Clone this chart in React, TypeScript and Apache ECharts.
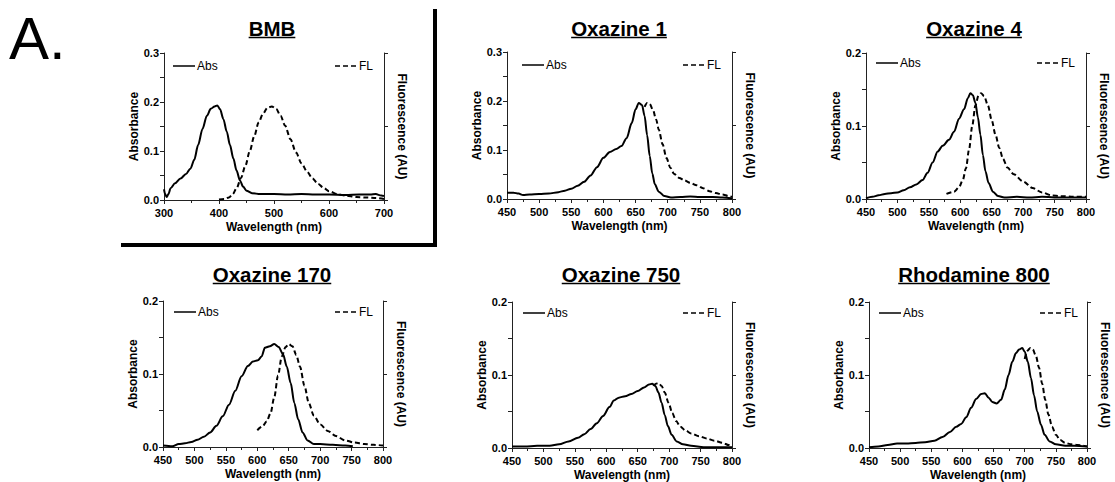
import React, { useEffect, useRef } from 'react';
import * as echarts from 'echarts';

const FONT = '"Liberation Sans", Arial, Helvetica, sans-serif';
const AX = '#222';

// ---------- data (wavelength nm, value) ----------
const BMB_ABS: [number, number][] = [
  [300, 0.022], [302, 0.012], [305, 0.006], [308, 0.012], [312, 0.024], [320, 0.034], [330, 0.044],
  [340, 0.053], [348, 0.064], [355, 0.082], [362, 0.112], [370, 0.145], [378, 0.172], [385, 0.186],
  [392, 0.191], [397, 0.193], [402, 0.185], [408, 0.165], [414, 0.140], [420, 0.112], [426, 0.085],
  [432, 0.060], [438, 0.040], [444, 0.027], [450, 0.019], [460, 0.014], [475, 0.012], [500, 0.012],
  [525, 0.011], [550, 0.012], [575, 0.011], [600, 0.011], [630, 0.010], [655, 0.011], [675, 0.011],
  [685, 0.012], [695, 0.009], [700, 0.008],
];
const BMB_FL: [number, number][] = [
  [400, 0.001], [410, 0.002], [418, 0.005], [425, 0.012], [432, 0.024], [440, 0.045], [448, 0.070],
  [456, 0.100], [464, 0.130], [472, 0.158], [480, 0.176], [488, 0.188], [496, 0.191], [504, 0.186],
  [512, 0.172], [520, 0.152], [530, 0.124], [540, 0.097], [550, 0.075], [560, 0.058], [570, 0.044],
  [580, 0.033], [590, 0.025], [600, 0.018], [615, 0.012], [630, 0.009], [650, 0.006], [670, 0.005],
  [685, 0.004], [700, 0.002],
];
const OX1_ABS: [number, number][] = [
  [450, 0.013], [460, 0.013], [468, 0.011], [475, 0.008], [485, 0.009], [500, 0.010], [515, 0.011],
  [530, 0.014], [540, 0.017], [550, 0.021], [560, 0.027], [570, 0.035], [580, 0.048], [590, 0.065],
  [600, 0.084], [610, 0.096], [620, 0.102], [628, 0.108], [636, 0.124], [644, 0.155], [650, 0.183],
  [655, 0.196], [660, 0.192], [664, 0.170], [668, 0.130], [672, 0.088], [676, 0.052], [680, 0.030],
  [686, 0.015], [695, 0.006], [705, 0.003], [720, 0.004], [735, 0.005], [750, 0.004], [770, 0.004],
  [785, 0.003], [800, 0.001],
];
const OX1_FL: [number, number][] = [
  [664, 0.188], [668, 0.196], [672, 0.194], [677, 0.182], [682, 0.162], [686, 0.142], [692, 0.112],
  [698, 0.084], [704, 0.064], [710, 0.051], [718, 0.043], [726, 0.038], [735, 0.033], [745, 0.028],
  [755, 0.022], [765, 0.016], [775, 0.012], [785, 0.009], [795, 0.006], [800, 0.004],
];
const OX4_ABS: [number, number][] = [
  [450, 0.001], [460, 0.003], [470, 0.005], [480, 0.007], [490, 0.008], [500, 0.009], [510, 0.012],
  [520, 0.016], [530, 0.020], [540, 0.026], [548, 0.036], [556, 0.050], [564, 0.065], [572, 0.073],
  [582, 0.081], [590, 0.092], [598, 0.110], [606, 0.123], [612, 0.138], [616, 0.145], [620, 0.142],
  [624, 0.132], [628, 0.112], [632, 0.088], [636, 0.060], [640, 0.038], [645, 0.022], [652, 0.010],
  [660, 0.004], [670, 0.002], [690, 0.003], [710, 0.002], [730, 0.003], [760, 0.002], [800, 0.002],
];
const OX4_FL: [number, number][] = [
  [578, 0.007], [590, 0.010], [598, 0.016], [604, 0.026], [609, 0.042], [614, 0.068], [619, 0.100],
  [624, 0.128], [629, 0.142], [633, 0.145], [638, 0.141], [644, 0.128], [650, 0.108], [656, 0.088],
  [662, 0.070], [668, 0.055], [675, 0.043], [685, 0.034], [700, 0.024], [715, 0.015], [730, 0.009],
  [745, 0.005], [760, 0.004], [780, 0.003], [800, 0.003],
];
const OX170_ABS: [number, number][] = [
  [450, 0.002], [465, 0.001], [475, 0.004], [485, 0.005], [495, 0.007], [505, 0.010], [515, 0.014],
  [525, 0.020], [535, 0.029], [545, 0.042], [555, 0.058], [565, 0.077], [575, 0.097], [585, 0.111],
  [593, 0.117], [601, 0.119], [607, 0.124], [612, 0.136], [620, 0.138], [627, 0.141], [634, 0.137],
  [641, 0.127], [647, 0.110], [653, 0.088], [659, 0.060], [665, 0.038], [672, 0.020], [680, 0.009],
  [690, 0.004], [700, 0.004], [720, 0.003], [740, 0.002], [752, 0.001],
];
const OX170_FL: [number, number][] = [
  [600, 0.023], [608, 0.028], [615, 0.035], [621, 0.046], [627, 0.068], [633, 0.098], [639, 0.124],
  [645, 0.137], [650, 0.141], [656, 0.138], [662, 0.126], [668, 0.110], [675, 0.084], [682, 0.060],
  [690, 0.043], [700, 0.031], [712, 0.022], [725, 0.015], [740, 0.009], [755, 0.006], [770, 0.004],
  [785, 0.003], [800, 0.002],
];
const OX750_ABS: [number, number][] = [
  [450, 0.002], [470, 0.002], [490, 0.003], [510, 0.003], [525, 0.005], [540, 0.009], [555, 0.014],
  [565, 0.019], [575, 0.026], [585, 0.034], [595, 0.044], [605, 0.056], [612, 0.065], [620, 0.069],
  [630, 0.071], [640, 0.074], [650, 0.078], [660, 0.083], [668, 0.087], [673, 0.088], [678, 0.085],
  [683, 0.076], [688, 0.062], [693, 0.045], [698, 0.030], [704, 0.018], [712, 0.009], [722, 0.005],
  [735, 0.003], [755, 0.001], [800, 0.001],
];
const OX750_FL: [number, number][] = [
  [675, 0.085], [679, 0.088], [683, 0.089], [688, 0.085], [693, 0.076], [699, 0.062], [705, 0.048],
  [711, 0.037], [718, 0.029], [726, 0.024], [735, 0.020], [748, 0.016], [760, 0.013], [772, 0.010],
  [785, 0.007], [795, 0.004], [800, 0.002],
];
const RH800_ABS: [number, number][] = [
  [450, 0.001], [465, 0.002], [480, 0.004], [495, 0.006], [510, 0.006], [525, 0.007], [540, 0.008],
  [555, 0.010], [568, 0.015], [580, 0.022], [590, 0.029], [598, 0.033], [606, 0.042], [614, 0.055],
  [622, 0.067], [630, 0.074], [636, 0.075], [642, 0.069], [648, 0.063], [655, 0.061], [662, 0.066],
  [668, 0.080], [674, 0.100], [680, 0.118], [686, 0.130], [691, 0.135], [696, 0.137], [700, 0.132],
  [705, 0.118], [710, 0.096], [715, 0.072], [720, 0.050], [726, 0.032], [732, 0.018], [740, 0.009],
  [750, 0.005], [765, 0.003], [780, 0.003], [800, 0.002],
];
const RH800_FL: [number, number][] = [
  [700, 0.122], [704, 0.133], [709, 0.137], [713, 0.135], [718, 0.126], [723, 0.110], [728, 0.088],
  [733, 0.066], [738, 0.046], [744, 0.029], [750, 0.018], [757, 0.011], [765, 0.007], [775, 0.005],
  [785, 0.004], [800, 0.002],
];

const TITLES = ['BMB', 'Oxazine 1', 'Oxazine 4', 'Oxazine 170', 'Oxazine 750', 'Rhodamine 800'];
const ABS_DATA = [BMB_ABS, OX1_ABS, OX4_ABS, OX170_ABS, OX750_ABS, RH800_ABS];
const FL_DATA = [BMB_FL, OX1_FL, OX4_FL, OX170_FL, OX750_FL, RH800_FL];
const X_MIN = [300, 450, 450, 450, 450, 450];
const X_MAX = [700, 800, 800, 800, 800, 800];
const X_STEP = [100, 50, 50, 50, 50, 50];
const Y_MAX = [0.3, 0.3, 0.2, 0.2, 0.2, 0.2];
const Y_STEP = 0.1;
const X_NAME = 'Wavelength (nm)';
const Y_NAME = 'Absorbance';
const Y2_NAME = 'Fluorescence (AU)';
const ABS_LABEL = 'Abs';
const FL_LABEL = 'FL';
const PANEL_LABEL = 'A.';

// ---------- layout ----------
const GRIDS = [
  { left: 164, top: 53, width: 220, height: 147 },
  { left: 507, top: 52, width: 225, height: 147 },
  { left: 866, top: 53, width: 220, height: 146 },
  { left: 163, top: 301, width: 220, height: 146 },
  { left: 512, top: 302, width: 220, height: 146 },
  { left: 869, top: 302, width: 218, height: 146 },
];
const LEGEND_POS = [
  { abs: 173, fl: 335, y: 66 },
  { abs: 522, fl: 683, y: 65 },
  { abs: 876, fl: 1037, y: 63 },
  { abs: 174, fl: 335, y: 312 },
  { abs: 523, fl: 683, y: 313 },
  { abs: 879, fl: 1040, y: 313 },
];
const TITLE_POS = [
  { x: 272, y: 28.5 },
  { x: 619, y: 28.5 },
  { x: 974, y: 28.5 },
  { x: 272, y: 274.5 },
  { x: 621, y: 274.5 },
  { x: 974, y: 274.5 },
];
const TITLE_FONT_SIZE = 20.5;

function measure(text: string, font: string): number {
  const c = document.createElement('canvas').getContext('2d');
  if (!c) return text.length * 10;
  c.font = font;
  return c.measureText(text).width;
}

export default function App() {
  const ref = useRef<HTMLDivElement>(null);
  useEffect(() => {
    if (!ref.current) return;
    const chart = echarts.init(ref.current, undefined, { renderer: 'svg' });

    const tickLabel = { fontFamily: FONT, fontWeight: 'bold', fontSize: 11, color: '#000' };
    const nameStyle = { fontFamily: FONT, fontWeight: 'bold', fontSize: 12, color: '#000' };

    const xAxis = GRIDS.map((_, i) => ({
      type: 'value', gridIndex: i, min: X_MIN[i], max: X_MAX[i], interval: X_STEP[i],
      name: X_NAME, nameLocation: 'middle', nameGap: 21, nameMoveOverlap: false,
      nameTextStyle: nameStyle,
      axisLine: { show: true, onZero: false, lineStyle: { color: AX, width: 1 } },
      axisTick: { show: true, inside: false, length: 4, lineStyle: { color: AX, width: 1 } },
      minorTick: { show: true, splitNumber: 2, length: 3, lineStyle: { color: AX, width: 1 } },
      splitLine: { show: false },
      minorSplitLine: { show: false },
      axisLabel: { ...tickLabel, margin: 7, formatter: (v: number) => String(Math.round(v)) },
    }));

    const yAxis: any[] = [];
    GRIDS.forEach((_, i) => {
      yAxis.push({
        type: 'value', gridIndex: i, position: 'left', min: 0, max: Y_MAX[i], interval: Y_STEP,
        name: Y_NAME, nameLocation: 'middle', nameGap: 24, nameRotate: 90, nameMoveOverlap: false,
        nameTextStyle: nameStyle,
        axisLine: { show: true, onZero: false, lineStyle: { color: AX, width: 1 } },
        axisTick: { show: true, inside: false, length: 4, lineStyle: { color: AX, width: 1 } },
        minorTick: { show: true, splitNumber: 2, length: 4, lineStyle: { color: AX, width: 1 } },
        splitLine: { show: false },
        minorSplitLine: { show: false },
        axisLabel: { ...tickLabel, margin: 5, formatter: (v: number) => v.toFixed(1) },
      });
      yAxis.push({
        type: 'value', gridIndex: i, position: 'right', min: 0, max: Y_MAX[i], interval: Y_MAX[i] / 2,
        name: Y2_NAME, nameLocation: 'middle', nameGap: 12, nameRotate: -90, nameMoveOverlap: false,
        nameTextStyle: nameStyle,
        axisLine: { show: true, onZero: false, lineStyle: { color: AX, width: 1 } },
        axisTick: { show: true, inside: false, length: 4, lineStyle: { color: AX, width: 1 } },
        splitLine: { show: false },
        axisLabel: { show: false },
      });
    });

    const series: any[] = [];
    GRIDS.forEach((_, i) => {
      series.push({
        type: 'line', name: ABS_LABEL, xAxisIndex: i, yAxisIndex: 2 * i, data: ABS_DATA[i],
        symbol: 'none', smooth: 0.3, smoothMonotone: 'x', silent: true,
        lineStyle: { color: '#000', width: 2, type: 'solid' },
      });
      series.push({
        type: 'line', name: FL_LABEL, xAxisIndex: i, yAxisIndex: 2 * i + 1, data: FL_DATA[i],
        symbol: 'none', smooth: 0.3, smoothMonotone: 'x', silent: true,
        lineStyle: { color: '#000', width: 2, type: [5, 3] },
      });
    });

    const titleFont = `bold ${TITLE_FONT_SIZE}px ${FONT}`;
    const graphic: any[] = [];
    graphic.push({
      type: 'text', x: 9, y: 38, silent: true,
      style: { text: PANEL_LABEL, font: `60px ${FONT}`, fill: '#000', align: 'left', verticalAlign: 'middle' },
    });
    TITLES.forEach((t, i) => {
      const p = TITLE_POS[i];
      const w = measure(t, titleFont);
      graphic.push({
        type: 'text', x: p.x, y: p.y, silent: true,
        style: { text: t, font: titleFont, fill: '#000', align: 'center', verticalAlign: 'middle' },
      });
      graphic.push({
        type: 'line', silent: true,
        shape: { x1: p.x - w / 2, y1: p.y + 9, x2: p.x + w / 2, y2: p.y + 9 },
        style: { stroke: '#000', lineWidth: 1.5 },
      });
    });
    LEGEND_POS.forEach((l) => {
      const items = [
        { x: l.abs, text: ABS_LABEL, dash: null as any },
        { x: l.fl, text: FL_LABEL, dash: [5, 3] },
      ];
      items.forEach((it) => {
        graphic.push({
          type: 'line', silent: true,
          shape: { x1: it.x, y1: l.y, x2: it.x + 22, y2: l.y },
          style: { stroke: '#000', lineWidth: 1.5, lineDash: it.dash },
        });
        graphic.push({
          type: 'text', x: it.x + 24, y: l.y, silent: true,
          style: { text: it.text, font: `12px ${FONT}`, fill: '#000', align: 'left', verticalAlign: 'middle' },
        });
      });
    });
    // frame around BMB panel
    graphic.push({ type: 'rect', silent: true, shape: { x: 433, y: 9, width: 4, height: 238 }, style: { fill: '#000' } });
    graphic.push({ type: 'rect', silent: true, shape: { x: 121, y: 243, width: 316, height: 4 }, style: { fill: '#000' } });

    chart.setOption({
      animation: false,
      backgroundColor: '#fff',
      grid: GRIDS.map((g) => ({ ...g, containLabel: false, outerBoundsMode: 'none' })),
      xAxis,
      yAxis,
      series,
      graphic,
    });
    return () => chart.dispose();
  }, []);

  return (
    <div
      ref={ref}
      style={{ position: 'fixed', left: 0, top: 0, width: 1115, height: 482, background: '#fff' }}
    />
  );
}
